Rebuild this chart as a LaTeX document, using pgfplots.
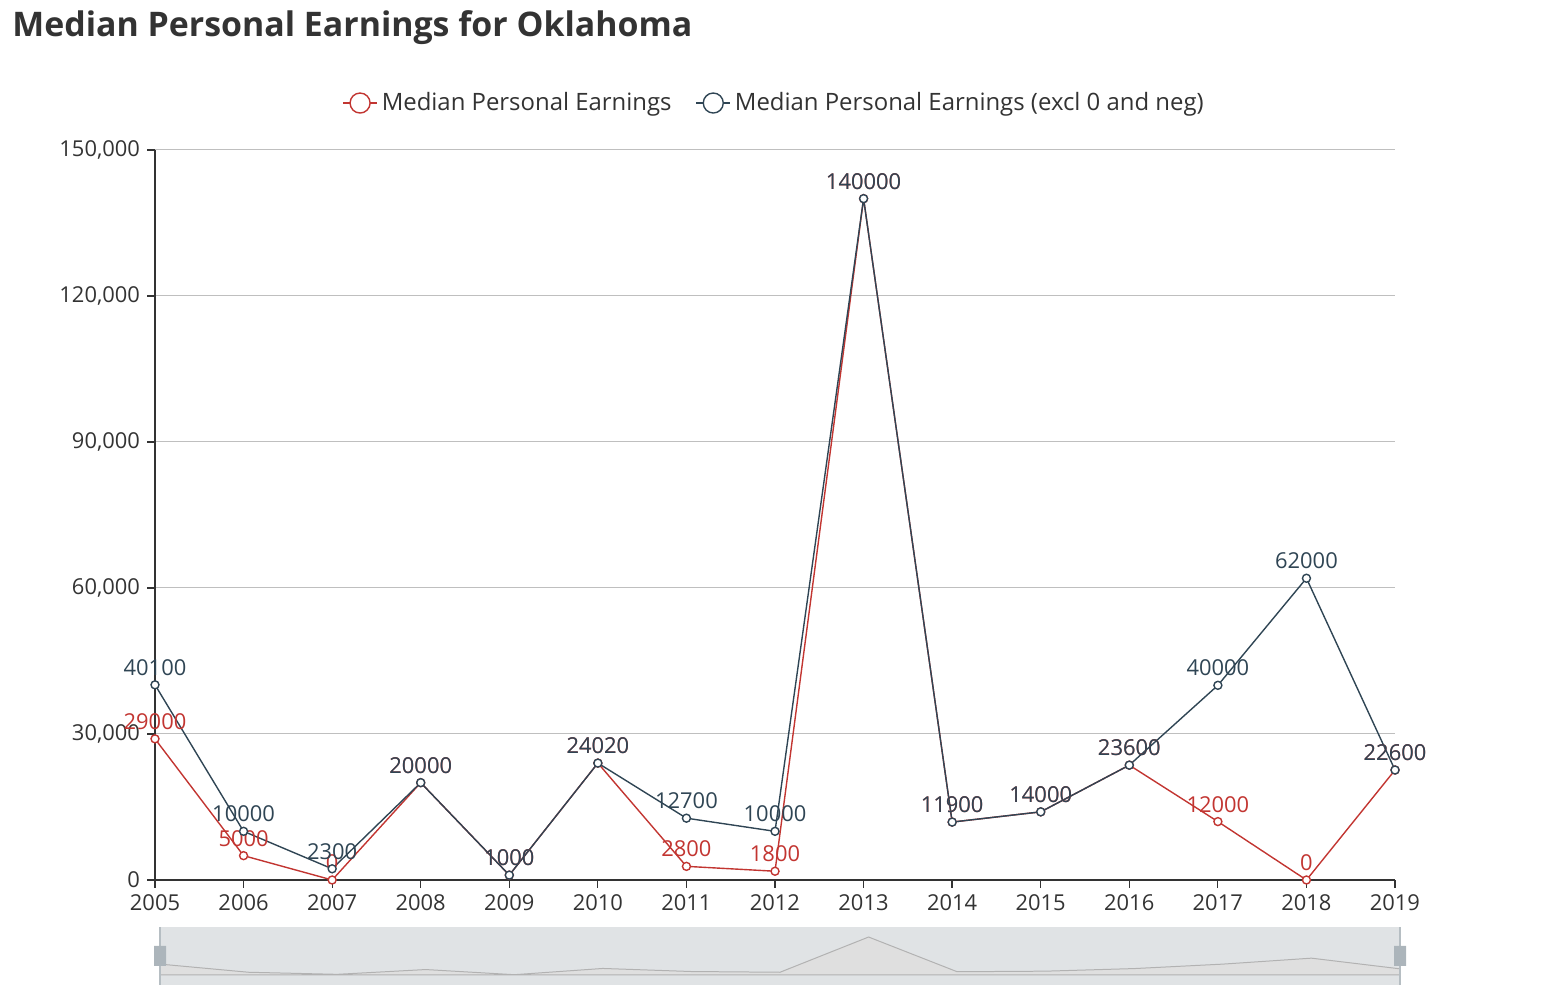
\documentclass[border=0pt]{standalone}
\usepackage{pgfplots}
\pgfplotsset{compat=1.18}
\usepackage{fontspec}
\setmainfont{Open Sans}
\definecolor{cred}{HTML}{C23531}
\definecolor{cdark}{HTML}{2F4554}
\definecolor{ctxt}{HTML}{333333}
\begin{document}
\begin{tikzpicture}[x=1bp,y=1bp]
\path[use as bounding box] (0,0) rectangle (775,500);
\node[anchor=north west,font=\fontsize{17}{20}\selectfont\bfseries,text=ctxt,inner sep=0pt] at (6,495) {Median Personal Earnings for Oklahoma};
\begin{axis}[at={(77.5bp,60bp)},anchor=south west,scale only axis,width=620bp,height=365bp,
  xmin=2005,xmax=2019,ymin=0,ymax=150000,
  xtick={2005,...,2019},ytick={0,30000,60000,90000,120000,150000},
  xticklabels={2005,2006,2007,2008,2009,2010,2011,2012,2013,2014,2015,2016,2017,2018,2019},
  yticklabels={0,{30,000},{60,000},{90,000},{120,000},{150,000}},
  tick label style={font=\fontsize{11}{13}\selectfont,text=ctxt},
  scaled y ticks=false,
  axis x line*=bottom, axis y line*=left,
  axis line style={ctxt,line width=0.6pt},
  tick style={ctxt,line width=0.6pt},
  tick align=outside, major tick length=4bp,
  ymajorgrids, grid style={gray!50,line width=0.5pt},
  legend style={at={(0.5,1)},anchor=south,yshift=14bp,draw=none,legend columns=2,
    font=\fontsize{12}{14}\selectfont,text=ctxt,/tikz/every even column/.append style={column sep=10bp}},
  legend image code/.code={\draw[#1,line width=0.7pt] (0,0)--(0.6cm,0); \draw[#1,line width=0.7pt,fill=white] (0.3cm,0) circle (5bp);},
  nodes near coords, point meta=explicit symbolic,
  every node near coord/.append style={font=\fontsize{11}{13}\selectfont,yshift=1bp},
]
\addplot[cred,line width=0.7pt,mark=*,mark size=2bp,mark options={fill=white},every node near coord/.append style={text=cred}] coordinates {
(2005,29000)[29000](2006,5000)[5000](2007,0)[0](2008,20000)[20000](2009,1000)[1000](2010,24020)[24020](2011,2800)[2800](2012,1800)[1800](2013,140000)[140000](2014,11900)[11900](2015,14000)[14000](2016,23600)[23600](2017,12000)[12000](2018,0)[0](2019,22600)[22600]};
\addlegendentry{Median Personal Earnings}
\addplot[cdark,line width=0.7pt,mark=*,mark size=2bp,mark options={fill=white},every node near coord/.append style={text=cdark}] coordinates {
(2005,40100)[40100](2006,10000)[10000](2007,2300)[2300](2008,20000)[20000](2009,1000)[1000](2010,24020)[24020](2011,12700)[12700](2012,10000)[10000](2013,140000)[140000](2014,11900)[11900](2015,14000)[14000](2016,23600)[23600](2017,40000)[40000](2018,62000)[62000](2019,22600)[22600]};
\addlegendentry{Median Personal Earnings (excl 0 and neg)}
\end{axis}
\begin{axis}[at={(80bp,7.5bp)},anchor=south west,scale only axis,width=620bp,height=29bp,
  xmin=2005,xmax=2019,ymin=-37000,ymax=177000,axis lines=none,
  axis background/.style={fill=cdark!15}]
\addplot[draw=gray!60,fill=gray!25,line width=0.5pt] coordinates {
(2005,40100)(2006,10000)(2007,2300)(2008,20000)(2009,1000)(2010,24020)(2011,12700)(2012,10000)(2013,140000)(2014,11900)(2015,14000)(2016,23600)(2017,40000)(2018,62000)(2019,22600)} \closedcycle;
\end{axis}
\draw[cdark!35,line width=0.8pt] (80,7.5)--(80,36.5) (700,7.5)--(700,36.5);
\fill[cdark!40] (77,17) rectangle (83,27) (697,17) rectangle (703,27);
\end{tikzpicture}
\end{document}
